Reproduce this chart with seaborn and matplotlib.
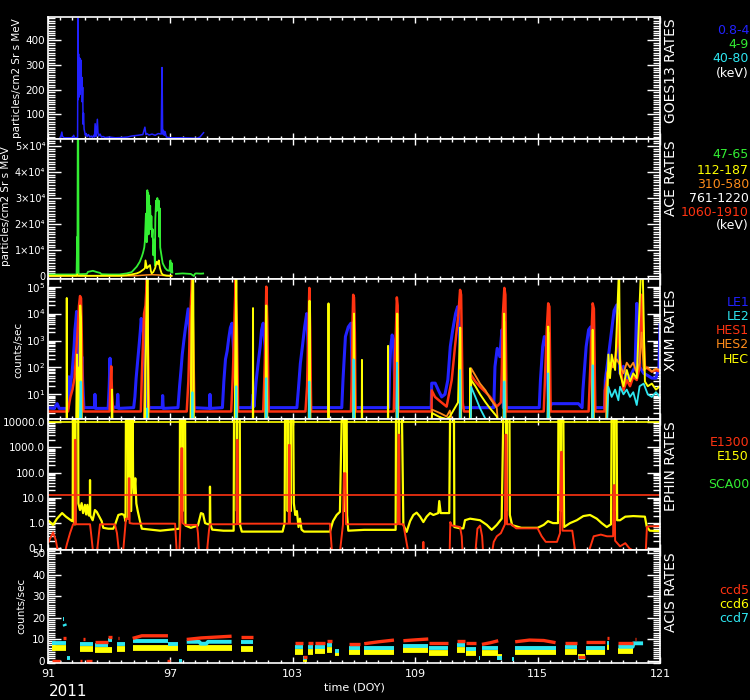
import numpy as np
import pandas as pd
import matplotlib
matplotlib.use("Agg")
import matplotlib.pyplot as plt
import matplotlib.ticker as mticker
import seaborn as sns

nan = np.nan

# ---------------- GOES13 (particles/cm2 Sr s MeV) ----------------
goes_doy = [91.58, 91.62, 91.68, 91.71, 91.80, 92.20, 92.26, 92.30, 92.45, 92.47,
            92.48, 92.50, 92.52, 92.54, 92.56, 92.58, 92.60, 92.62, 92.64, 92.66,
            92.68, 92.70, 92.72, 92.74, 92.77, 92.80, 92.83, 92.87, 92.92, 92.98,
            93.05, 93.12, 93.18, 93.24, 93.28, 93.31, 93.36, 93.42, 93.45, 93.48,
            93.55, 93.62, 93.70, 93.80, 94.00, 94.30, 94.60, 94.90, 95.10, 95.40,
            95.65, 95.75, 95.80, 95.85, 95.95, 96.10, 96.25, 96.40, 96.55, 96.59,
            96.62, 96.66, 96.70, 96.74, 96.80, 97.00, 97.50, 98.00, 98.30, 98.45,
            98.55, 98.65]
goes_08_4 = [3, 8, 28, 10, 5, 5, 15, 5, 6, 490,
             160, 345, 170, 330, 180, 325, 200, 320, 210, 250,
             150, 210, 60, 105, 40, 28, 15, 22, 10, 18,
             8, 12, 6, 15, 8, 62, 10, 80, 25, 12,
             20, 8, 10, 6, 8, 5, 6, 8, 12, 15,
             18, 48, 18, 22, 16, 20, 15, 22, 20, 290,
             20, 35, 15, 30, 8, 5, 5, 4, 3, 8,
             18, 28]

# ---------------- ACE ----------------
ace_doy = [91.00, 92.40, 92.43, 92.44, 92.46, 92.48, 92.50, 92.55, 92.90, 92.96,
           93.20, 93.40, 93.55, 93.62, 94.00, 94.50, 94.86, 95.10, 95.35, 95.50,
           95.60, 95.66, 95.72, 95.75, 95.80, 95.84, 95.87, 95.89, 95.91, 95.93,
           95.95, 95.98, 96.01, 96.04, 96.07, 96.10, 96.13, 96.16, 96.20, 96.24,
           96.26, 96.30, 96.33, 96.36, 96.40, 96.43, 96.46, 96.48, 96.50, 96.54,
           96.58, 96.62, 96.68, 96.75, 96.85, 96.95, 97.00, 97.03, 97.06, 97.10,
           nan, 97.23, 97.60, 98.00, 98.15, 98.20, 98.25, 98.50, 98.65]
ace_47_65 = [600, 600, 15000, 1000, 60000, 60000, 1000, 700, 800, 1600,
             2000, 1500, 1200, 700, 600, 600, 1000, 1500, 3600, 5500,
             7500, 9000, 11000, 13500, 24000, 13000, 33000, 20000, 32000, 16000,
             31000, 22000, 27000, 18000, 23000, 15000, 18000, 8000, 14000, 4000,
             22000, 29000, 25000, 30000, 26000, 29000, 15000, 26000, 11000, 9000,
             7000, 5000, 4000, 3000, 2200, 2000, 6000, 1500, 5000, 1000,
             nan, 800, 1000, 800, 0, 800, 1000, 900, 1000]
ace_y_doy = [91.00, 92.40, 92.44, 92.48, 93.00, 94.50, 94.86, 95.10, 95.35, 95.50,
             95.59, 95.68, 95.75, 95.78, 95.85, 95.92, 96.00, 96.04, 96.08, 96.16,
             96.25, 96.33, 96.40, 96.43, 96.49, 96.57, 96.65, 96.80, 97.00, 97.10]
ace_112_187 = [100, 100, 600, 100, 100, 100, 300, 600, 1000, 1500,
               2000, 2500, 3000, 6000, 3000, 3600, 4200, 2000, 1000, 1500,
               3000, 5500, 4500, 6000, 3000, 1000, 400, 200, 100, 100]
ace_o_doy = [91.00, 95.30, 95.80, 96.10, 96.40, 96.80, 97.10]
ace_310_580 = [0, 100, 400, 500, 400, 100, 0]

# ---------------- XMM (counts/sec) ----------------
le1_doy = [91.00, 91.30, 91.45, 91.55, 91.98, 92.02, 92.06, 92.12, 92.18, 92.22,
           92.28, 92.32, 92.36, 92.40, 92.44, 92.48, 92.54, 92.60, 92.66, 92.70,
           92.76, 93.28, 93.30, 93.33, 93.95, 94.00, 94.04, 94.08, 94.12, 94.38,
           94.42, 94.46, 95.20, 95.26, 95.32, 95.40, 95.46, 95.52, 95.57, 95.62,
           95.66, 95.72, 95.80, 96.60, 96.62, 96.65, 97.37, 97.45, 97.52, 97.58,
           97.66, 97.74, 97.82, 97.87, 97.92, 98.00, 98.10, 98.92, 98.94, 98.97,
           99.55, 99.62, 99.70, 99.78, 99.86, 99.94, 100.02, 100.08, 100.15, 100.25,
           101.00, 101.06, 101.10, 101.20, 101.30, 101.40, 101.47, 101.55, 101.64, 101.72,
           103.20, 103.27, 103.37, 103.47, 103.58, 103.68, 103.76, 103.82, 105.40, 105.46,
           105.58, 105.72, 105.85, 105.95, 107.70, 107.74, 107.80, 107.87, 107.94, 108.02,
           109.78, 109.81, 109.98, 110.14, 110.30, 110.46, 110.60, 110.72, 110.84, 110.98,
           111.08, 111.16, 111.30, 112.85, 112.91, 113.02, 113.15, 113.25, 113.32, 115.08,
           115.14, 115.25, 115.33, 115.42, 115.55, 115.70, 117.00, 117.18, 117.22, 117.38,
           117.50, 117.60, 117.72, 118.28, 118.32, 118.47, 118.63, 118.75, 118.88, 118.96,
           119.04, 119.21, 119.37, 119.53, 119.69, 119.78, 119.86, 119.92, 120.02, 120.20,
           120.40, 120.60, 120.80, 120.95, 121.00]
le1 = [3.2, 3.0, 4.5, 3.0, 3.0, 45, 10, 30, 60, 150,
       600, 2500, 5000, 12000, 2000, 300, 60, 30, 250, 30,
       3.2, 3.2, 10, 3.0, 3.0, 20, 220, 15, 3.5, 3.2,
       10, 3.0, 3.2, 8, 40, 200, 600, 2000, 6600, 2500,
       6000, 300, 3.2, 3.2, 9, 3.0, 3.2, 20, 80, 300,
       1000, 3000, 8000, 15000, 4000, 300, 3.2, 3.0, 10, 3.0,
       3.2, 30, 200, 400, 1200, 3000, 4400, 800, 100, 3.2,
       3.2, 10, 3.5, 30, 140, 600, 2500, 4400, 600, 3.2,
       3.2, 14, 140, 590, 3200, 10000, 500, 3.2, 3.2, 34,
       1400, 3200, 4400, 3.2, 3.2, 60, 590, 1600, 1000, 3.2,
       3.2, 26, 26, 14, 8, 10, 34, 590, 2500, 10000,
       18000, 3000, 3.2, 3.2, 107, 510, 250, 2500, 3.2, 3.2,
       34, 590, 1400, 590, 3.2, 4.5, 4.5, 3.2, 14, 590,
       2500, 3200, 3.2, 3.2, 34, 250, 2500, 13000, 21000, 590,
       60, 110, 34, 45, 80, 100, 24000, 2500, 100, 60,
       50, 40, 40, 100, 4400]

hes1_doy = [91.00, 91.98, 92.05, 92.10, 92.20, 92.30, 92.40, 92.46, 92.52, 92.57,
            92.62, 92.66, 92.70, 92.74, 94.02, 94.06, 94.10, 94.14, 94.20, 95.55,
            95.60, 95.66, 95.71, 95.78, 95.85, 95.90, 95.95, 97.80, 97.88, 97.95,
            98.01, 98.06, 98.12, 98.18, 99.98, 100.06, 100.14, 100.20, 100.26, 100.32,
            101.55, 101.60, 101.64, 101.67, 101.70, 101.75, 101.82, 103.62, 103.70, 103.76,
            103.81, 103.85, 103.90, 105.85, 105.90, 105.93, 105.96, 106.00, 106.04, 106.08,
            107.95, 108.00, 108.06, 108.10, 108.14, 108.18, 109.80, 109.81, 109.97, 110.22,
            110.54, 110.79, 110.95, 111.12, 111.20, 111.25, 111.33, 111.39, 111.72, 111.74,
            111.95, 112.18, 112.45, 112.67, 113.00, 113.20, 113.24, 113.30, 113.37, 113.42,
            113.48, 115.30, 115.36, 115.45, 115.52, 115.58, 115.64, 117.50, 117.54, 117.62,
            117.70, 117.76, 117.83, 118.28, 118.30, 118.47, 118.63, 118.80, 118.88, 118.96,
            119.04, 119.21, 119.37, 119.53, 119.69, 119.86, 120.00, 120.10, 120.18, 120.26,
            120.40, 120.60, 120.80, 121.00]
hes1 = [2.3, 2.3, 5, 8, 15, 40, 600, 3000, 20000, 45000,
        37000, 1000, 10, 2.3, 2.3, 20, 110, 10, 2.3, 2.3,
        50, 1000, 10000, 20000, 200000, 500, 2.3, 2.3, 30, 2000,
        30000, 200000, 1000, 2.3, 2.3, 50, 5000, 200000, 3000, 2.3,
        2.3, 30, 300, 3000, 100000, 5000, 2.3, 2.3, 20, 2000,
        90000, 3000, 2.3, 2.3, 100, 5000, 50000, 40000, 2000, 2.3,
        2.3, 150, 3000, 40000, 20000, 2.3, 2.3, 14, 8, 5.5,
        3.5, 34, 590, 10000, 76000, 50000, 5, 2.3, 2.3, 52,
        30, 19, 12, 8, 3.5, 5, 60, 10000, 90000, 50000,
        2.3, 2.3, 34, 2500, 24000, 18000, 2.3, 2.3, 14, 590,
        24000, 15000, 2.3, 2.3, 14, 60, 110, 200, 590, 10000,
        200, 14, 34, 20, 45, 34, 100, 50000, 2000, 110,
        90, 70, 80, 70]

hes2_doy = [91.00, 92.50, 92.56, 92.60, 92.66, 95.70, 95.80, 95.86, 95.92, 97.98,
            98.04, 98.10, 100.16, 100.22, 100.28, 101.65, 101.70, 101.76, 103.78, 103.82,
            103.86, 105.95, 105.98, 106.02, 108.08, 108.12, 108.16, 109.80, 109.83, 110.22,
            110.54, 110.70, 110.80, 111.18, 111.22, 111.26, 111.72, 111.74, 111.95, 112.18,
            112.45, 112.67, 112.90, 113.00, 113.05, 113.34, 113.38, 113.44, 115.50, 115.54,
            115.58, 117.68, 117.72, 117.76, 118.35, 118.40, 118.55, 118.70, 118.88, 119.04,
            119.21, 119.37, 119.53, 119.69, 119.86, 120.00, 120.10, 120.20, 120.40, 120.60,
            120.80, 121.00]
hes2 = [1.0, 1.0, 3000, 8000, 1.0, 1.0, 5000, 100000, 1.0, 1.0,
        20000, 1.0, 1.0, 20000, 1.0, 1.0, 3000, 1.0, 1.0, 2000,
        1.0, 1.0, 5000, 1.0, 1.0, 3000, 1.0, 1.0, 2.7, 2.0,
        1.5, 2.5, 1.0, 1.0, 3000, 1.0, 1.0, 93, 50, 25,
        14, 7, 4, 3, 1.0, 1.0, 5000, 1.0, 1.0, 2000,
        1.0, 1.0, 2000, 1.0, 1.0, 60, 150, 100, 200, 120,
        60, 150, 100, 150, 60, 150, 2000, 80, 100, 70,
        90, 80]

hec_doy = [91.00, 91.91, 91.92, 91.93, 92.38, 92.42, 92.46, 92.52, 92.56, 92.58,
           92.62, 92.64, 94.12, 94.14, 94.16, 95.75, 95.78, 95.82, 95.86, 95.89,
           95.92, 98.00, 98.04, 98.08, 98.12, 98.15, 100.15, 100.19, 100.23, 100.27,
           101.04, 101.05, 101.06, 101.66, 101.70, 101.74, 103.78, 103.82, 103.86, 104.74,
           104.75, 104.76, 105.97, 106.00, 106.04, 106.38, 106.39, 106.40, 107.66, 107.67,
           107.68, 108.09, 108.12, 108.16, 109.80, 109.83, 110.22, 110.54, 110.70, 111.10,
           111.16, 111.20, 111.24, 111.68, 111.69, 111.70, 111.74, 111.95, 112.18, 112.45,
           112.67, 113.00, 113.10, 113.33, 113.36, 113.40, 115.49, 115.52, 115.56, 117.66,
           117.70, 117.74, 118.40, 118.47, 118.55, 118.63, 118.80, 118.97, 119.00, 119.04,
           119.21, 119.37, 119.53, 119.69, 119.86, 120.05, 120.16, 120.26, 120.40, 120.60,
           120.80, 121.00]
hec = [0.8, 0.8, 38000, 0.8, 0.8, 300, 0.8, 100, 0.8, 20000,
       5000, 0.8, 0.8, 15, 0.8, 0.8, 50, 3000, 200000, 200000,
       0.8, 0.8, 5000, 200000, 200000, 0.8, 0.8, 1000, 200000, 0.8,
       0.8, 16000, 0.8, 0.8, 20000, 0.8, 0.8, 30000, 0.8, 0.8,
       24000, 0.8, 0.8, 10000, 0.8, 0.8, 190, 0.8, 0.8, 630,
       0.8, 0.8, 10000, 0.8, 0.8, 2.0, 1.4, 1.2, 1.5, 5,
       300, 3000, 0.8, 0.8, 93, 0.8, 34, 20, 10, 5,
       3, 1.5, 0.8, 0.8, 10000, 0.8, 0.8, 3300, 0.8, 0.8,
       2500, 0.8, 0.8, 300, 40, 300, 80, 200000, 200000, 60,
       20, 80, 30, 60, 40, 200000, 200000, 30, 20, 25,
       15, 20]

le2_doy = [91.00, 92.56, 92.60, 92.64, 95.84, 95.86, 95.88, 98.05, 98.08, 98.11,
           100.20, 100.23, 100.26, 101.67, 101.70, 101.73, 103.79, 103.81, 103.84, 105.96,
           105.98, 106.01, 108.09, 108.11, 108.14, 111.18, 111.20, 111.23, 111.72, 111.74,
           111.95, 112.18, 112.45, 112.67, 113.34, 113.37, 113.40, 115.49, 115.52, 115.55,
           117.67, 117.70, 117.73, 118.40, 118.47, 118.63, 118.80, 118.96, 119.04, 119.21,
           119.37, 119.53, 119.69, 119.86, 120.00, 120.20, 120.40, 120.60, 120.80, 121.00]
le2 = [0.6, 0.6, 30, 0.6, 0.6, 3, 0.6, 0.6, 12, 0.6,
       0.6, 20, 0.6, 0.6, 40, 0.6, 0.6, 30, 0.6, 0.6,
       200, 0.6, 0.6, 150, 0.6, 0.6, 80, 0.6, 0.6, 19,
       8, 3, 1.2, 0.6, 0.6, 30, 0.6, 0.6, 60, 0.6,
       0.6, 120, 0.6, 0.6, 19, 8, 15, 6, 19, 10,
       15, 8, 12, 4, 20, 25, 10, 8, 12, 8]

# ---------------- EPHIN ----------------
e150_doy = [91.00, 91.25, 91.44, 91.69, 91.88, 92.18, 92.21, 92.22, 92.28, 92.29,
            92.34, 92.35, 92.48, 92.49, 92.57, 92.65, 92.72, 92.81, 92.87, 92.93,
            93.00, 93.05, 93.06, 93.07, 93.19, 93.30, 93.39, 93.47, 93.63, 93.71,
            93.96, 94.20, 94.28, 94.45, 94.61, 94.73, 94.80, 94.82, 94.92, 94.93,
            94.97, 94.98, 95.06, 95.07, 95.15, 95.17, 95.22, 95.28, 95.33, 95.40,
            95.50, 95.60, 96.50, 97.00, 97.45, 97.47, 97.59, 97.60, 97.61, 97.72,
            97.74, 98.00, 98.35, 98.50, 98.60, 98.70, 98.85, 98.93, 98.94, 98.96,
            99.05, 99.60, 100.10, 100.12, 100.25, 100.26, 100.27, 100.40, 100.42, 100.50,
            101.50, 102.50, 102.60, 102.62, 102.74, 102.75, 102.76, 102.89, 102.90, 102.91,
            103.02, 103.05, 103.12, 103.20, 103.28, 103.35, 103.43, 103.55, 104.00, 104.82,
            104.97, 105.15, 105.31, 105.40, 105.51, 105.52, 105.53, 105.64, 105.66, 105.72,
            106.50, 107.50, 108.04, 108.06, 108.19, 108.20, 108.21, 108.35, 108.42, 108.58,
            108.75, 108.91, 109.07, 109.24, 109.40, 109.56, 109.73, 109.89, 110.13, 110.18,
            110.25, 110.46, 110.67, 110.71, 110.90, 110.92, 111.20, 111.36, 111.44, 111.69,
            112.18, 112.51, 112.75, 113.00, 113.24, 113.32, 113.46, 113.47, 113.48, 113.62,
            113.64, 113.75, 114.20, 115.00, 115.30, 115.51, 115.75, 116.00, 116.02, 116.13,
            116.14, 116.15, 116.26, 116.30, 116.59, 116.92, 117.24, 117.57, 117.90, 118.14,
            118.39, 118.60, 118.63, 118.74, 118.75, 118.76, 118.87, 118.90, 119.04, 119.30,
            119.69, 120.26, 120.35, 120.50, 121.00]
e150 = [1.3, 0.85, 1.5, 2.5, 1.8, 1.2, 1.2, 20000, 20000, 0.9,
        0.9, 20000, 20000, 6, 3.3, 6.2, 2.5, 5.3, 2.2, 5.3,
        2.0, 2.5, 51, 2.0, 1.3, 3.3, 2.8, 2.1, 1.2, 0.65,
        0.6, 0.6, 0.83, 2.1, 2.3, 2.1, 1.2, 20000, 20000, 1.5,
        1.5, 20000, 20000, 3, 20000, 80, 15, 60, 6, 3,
        1.3, 0.6, 0.5, 0.55, 0.6, 20000, 20000, 3, 20000, 20000,
        0.8, 0.65, 0.8, 2.5, 2.3, 1.0, 0.9, 0.9, 28, 0.9,
        0.55, 0.5, 0.5, 20000, 20000, 3, 20000, 20000, 0.8, 0.46,
        0.46, 0.46, 1.0, 20000, 20000, 3, 20000, 20000, 3, 20000,
        20000, 6.2, 2.1, 3.0, 0.7, 1.5, 0.55, 0.46, 0.46, 0.46,
        1.2, 2.1, 2.8, 20000, 20000, 3, 20000, 20000, 2.1, 0.5,
        0.54, 0.54, 0.54, 20000, 20000, 3, 20000, 20000, 0.85, 0.45,
        1.2, 2.1, 2.6, 1.8, 1.1, 1.8, 2.5, 2.1, 2.5, 7.5,
        2.5, 2.5, 2.5, 20000, 20000, 0.7, 0.62, 0.62, 1.3, 1.5,
        1.3, 0.85, 0.54, 0.85, 1.5, 20000, 20000, 3, 20000, 20000,
        2.1, 0.83, 0.65, 0.65, 0.85, 1.2, 1.0, 1.0, 20000, 20000,
        3, 20000, 20000, 0.7, 1.0, 1.3, 1.9, 2.1, 1.5, 1.0,
        0.7, 0.9, 20000, 20000, 3, 20000, 20000, 1.3, 1.3, 1.8,
        1.9, 1.8, 0.72, 0.5, 0.48]

e1300_doy = [91.00, 91.25, 91.39, 91.49, 91.83, 91.93, 92.08, 92.23, 92.31, 92.32,
             92.35, 92.36, 93.06, 93.11, 93.21, 93.40, 93.50, 93.55, 94.28, 94.38,
             94.48, 94.68, 94.77, 94.82, 94.95, 94.96, 94.99, 95.00, 95.17, 96.50,
             97.23, 97.31, 97.44, 97.50, 97.53, 97.58, 97.60, 97.72, 98.30, 98.35,
             98.40, 98.79, 98.89, 98.94, 100.07, 100.25, 100.26, 100.30, 100.31, 100.45,
             102.80, 102.81, 102.85, 102.86, 103.02, 104.82, 104.92, 105.31, 105.46, 105.50,
             105.58, 105.61, 105.66, 108.15, 108.18, 108.22, 108.24, 108.42, 108.66, 109.38,
             109.40, 109.42, 110.69, 110.72, 110.80, 111.20, 111.28, 111.32, 111.95, 112.05,
             112.18, 112.28, 112.33, 112.77, 112.85, 113.00, 113.20, 113.30, 113.40, 113.42,
             113.47, 113.50, 113.70, 113.95, 115.00, 115.20, 115.40, 115.95, 116.10, 116.15,
             116.19, 116.22, 116.34, 116.70, 116.85, 117.50, 117.75, 118.10, 118.40, 118.70,
             118.73, 118.78, 118.80, 119.04, 119.30, 119.50, 119.70, 120.00, 120.30, 120.36,
             120.50, 121.00]
e1300 = [0.16, 0.43, 0.2, 0.07, 0.07, 0.15, 0.4, 0.9, 0.9, 2000,
         2000, 0.9, 0.9, 0.4, 0.07, 0.07, 0.4, 0.9, 0.9, 0.4,
         0.07, 0.07, 0.5, 1.5, 1.5, 60, 60, 1.0, 0.95, 0.95,
         0.95, 0.07, 0.07, 1.5, 930, 930, 1.0, 0.85, 0.85, 0.4,
         0.07, 0.07, 0.5, 0.9, 0.9, 0.9, 2000, 2000, 0.9, 0.95,
         0.95, 1260, 1260, 0.95, 0.95, 0.95, 0.07, 0.07, 0.9, 95,
         95, 0.9, 0.9, 0.9, 3200, 3200, 0.9, 0.9, 0.07, 0.07,
         0.18, 0.07, 0.07, 1.1, 0.8, 0.7, 0.3, 0.07, 0.07, 0.6,
         0.8, 0.3, 0.07, 0.07, 0.18, 0.3, 0.4, 0.6, 0.9, 3200,
         3200, 0.9, 0.9, 0.62, 0.62, 0.3, 0.18, 0.18, 0.4, 670,
         670, 0.5, 0.5, 0.5, 0.07, 0.07, 0.3, 0.35, 0.3, 0.3,
         32, 32, 0.2, 0.12, 0.16, 0.1, 0.08, 0.07, 0.07, 0.72,
         0.75, 0.75]

e150_limit = 10500
e1300_limit = 13.5

# ---------------- ACIS (counts/sec) ----------------
ccd5_doy = [91.74, 91.88, nan, 92.72, 92.80, nan, 93.30, 93.92, nan, 93.93, 94.12, nan,
            94.42, 94.47, nan, 95.15, 95.60, 96.88, nan, 97.80, 98.50, 100.00, nan,
            100.45, 101.07, nan, 103.11, 103.52, nan, 103.50, 103.70, nan, 103.76, 104.00, nan,
            104.09, 104.58, nan, 104.66, 104.91, nan, 104.85, 104.87, nan, 105.77, 106.29, nan,
            106.50, 107.20, 107.96, nan, 108.42, 109.00, 109.64, nan, 109.69, 110.60, nan,
            111.04, 111.44, nan, 111.49, 111.98, nan, 112.27, 112.70, 113.07, nan,
            113.90, 114.60, 115.30, 115.88, nan, 116.34, 116.92, nan, 116.98, 117.32, nan,
            117.37, 118.30, nan, 118.39, 118.52, nan, 118.96, 119.69, nan, 119.78, 119.80, nan,
            91.20, 91.60, nan, 92.55, 92.65, nan, 92.85, 93.18, nan, 96.85, 97.00]
ccd5 = [10.5, 10.5, nan, 10.0, 10.0, nan, 8.5, 8.5, nan, 11.0, 11.0, nan,
        10.3, 10.3, nan, 10.3, 11.5, 11.5, nan, 9.8, 10.5, 11.3, nan,
        10.8, 10.8, nan, 8.3, 8.3, nan, 1.5, 1.5, nan, 8.0, 8.0, nan,
        8.3, 8.3, nan, 9.2, 9.2, nan, 14.6, 14.6, nan, 7.5, 7.5, nan,
        7.8, 8.7, 9.5, nan, 9.2, 9.6, 10.0, nan, 8.3, 8.3, nan,
        9.2, 9.2, nan, 8.3, 8.3, nan, 7.5, 8.3, 9.2, nan,
        8.7, 9.5, 9.3, 8.3, nan, 8.3, 8.3, nan, 1.5, 1.5, nan,
        8.5, 8.5, nan, 10.3, 10.3, nan, 8.3, 8.3, nan, 9.9, 9.9, nan,
        0.0, 0.0, nan, 0.0, 0.0, nan, 0.0, 0.0, nan, 0.0, 0.0]

ccd6_doy = [91.20, 91.88, nan, 92.57, 93.19, nan, 93.30, 94.12, nan, 94.37, 94.78, nan,
            95.15, 96.88, nan, 96.90, 97.39, nan, 97.80, 100.00, nan, 100.45, 101.07, nan,
            103.11, 103.52, nan, 103.50, 103.70, nan, 103.76, 104.00, nan, 104.09, 104.58, nan,
            104.66, 104.91, nan, 105.07, 105.28, nan, 105.77, 106.29, nan, 106.50, 107.96, nan,
            108.42, 109.64, nan, 109.69, 110.60, nan, 111.04, 111.44, nan, 111.49, 111.98, nan,
            112.27, 113.07, nan, 113.00, 113.24, nan, 113.89, 115.88, nan, 116.34, 116.92, nan,
            116.98, 117.32, nan, 117.37, 118.30, nan, 118.39, 118.52, nan, 118.96, 119.69]
ccd6 = [5.8, 5.8, nan, 5.5, 5.5, nan, 5.0, 5.0, nan, 5.5, 5.5, nan,
        5.7, 5.7, nan, 5.7, 5.7, nan, 5.7, 5.7, nan, 5.3, 5.3, nan,
        4.1, 4.1, nan, 0.5, 0.5, nan, 4.1, 4.1, nan, 4.5, 4.5, nan,
        4.9, 4.9, nan, 3.5, 3.5, nan, 4.1, 4.1, nan, 4.1, 4.1, nan,
        4.9, 4.9, nan, 3.6, 3.6, nan, 4.9, 4.9, nan, 3.6, 3.6, nan,
        3.6, 3.6, nan, 1.5, 1.5, nan, 3.9, 3.9, nan, 4.1, 4.1, nan,
        1.8, 1.8, nan, 4.1, 4.1, nan, 6.4, 6.4, nan, 4.5, 4.5]

ccd7_doy = [91.20, 91.88, nan, 91.72, 91.76, nan, 91.80, 91.84, nan, 91.93, 92.08, nan,
            92.57, 93.19, nan, 93.30, 93.92, nan, 93.93, 94.12, nan, 94.37, 94.78, nan,
            95.15, 96.88, nan, 96.90, 97.39, nan, 96.91, 96.93, nan,
            97.80, 98.40, 98.50, 98.75, 98.85, 100.00, nan, 100.45, 101.07, nan,
            103.11, 103.52, nan, 103.50, 103.70, nan, 103.76, 104.00, nan, 104.09, 104.58, nan,
            104.66, 104.91, nan, 105.07, 105.28, nan, 105.77, 106.29, nan, 106.50, 107.96, nan,
            108.42, 109.64, nan, 109.69, 110.60, nan, 111.04, 111.44, nan, 111.49, 111.98, nan,
            112.12, 112.16, nan, 112.27, 113.07, nan, 113.00, 113.24, nan, 113.73, 113.84, nan,
            113.89, 115.88, nan, 116.34, 116.92, nan, 116.98, 117.32, nan, 117.37, 118.30, nan,
            118.39, 118.52, nan, 118.96, 119.66, 119.70, 120.17, nan, 97.40, 97.55]
ccd7 = [8.0, 8.0, nan, 19.5, 19.5, nan, 17.0, 16.0, nan, 1.0, 1.0, nan,
        7.5, 7.5, nan, 7.0, 7.0, nan, 9.5, 9.5, nan, 7.6, 7.6, nan,
        9.0, 9.0, nan, 7.5, 7.5, nan, 4.0, 4.0, nan,
        8.7, 8.7, 7.8, 7.8, 8.7, 8.7, nan, 8.5, 8.5, nan,
        6.4, 6.4, nan, 1.0, 1.0, nan, 6.4, 6.4, nan, 6.4, 6.4, nan,
        7.2, 7.2, nan, 4.5, 4.5, nan, 6.0, 6.0, nan, 5.7, 5.7, nan,
        6.8, 6.8, nan, 5.7, 5.7, nan, 7.0, 7.0, nan, 5.5, 5.5, nan,
        1.0, 1.0, nan, 5.7, 5.7, nan, 1.0, 1.0, nan, 0.5, 0.5, nan,
        5.9, 5.9, nan, 6.4, 6.4, nan, 1.0, 1.0, nan, 6.0, 6.0, nan,
        8.3, 8.3, nan, 6.4, 6.4, 8.0, 8.0, nan, 0.0, 0.0]

# ---------------- colours / layout ----------------
BLUE = "#2222ff"
GREEN = "#33ee33"
CYAN = "#2ee6f0"
YELLOW = "#ffff00"
ORANGE = "#ff8c1a"
RED = "#ff3311"
WHITE = "#ffffff"

W, H = 750, 700
LEFT, RIGHT = 48, 660
panels = [(17, 139), (139, 279), (279, 419), (419, 550), (550, 663)]

sns.set_theme(style="ticks", rc={
    "axes.facecolor": "black", "figure.facecolor": "black",
    "axes.edgecolor": "white", "text.color": "white",
    "xtick.color": "white", "ytick.color": "white", "axes.grid": False,
})
plt.rcParams["font.family"] = ["DejaVu Sans"]


def draw(ax, t, v, color, lw=1.0):
    t = np.asarray(t, dtype=float)
    v = np.asarray(v, dtype=float)
    assert len(t) == len(v), (color, len(t), len(v))
    df = pd.DataFrame({"doy": t, "rate": v})
    df["seg"] = df["rate"].isna().cumsum()
    df = df.dropna()
    sns.lineplot(data=df, x="doy", y="rate", units="seg", estimator=None, sort=False,
                 color=color, linewidth=lw, ax=ax, legend=False, solid_capstyle="butt")


def ftext(x, y, s, **kw):
    fig.text(x / W, 1 - y / H, s, **kw)


fig = plt.figure(figsize=(7.5, 7), dpi=100)
axes = []
for top, bot in panels:
    ax = fig.add_axes([LEFT / W, 1 - bot / H, (RIGHT - LEFT) / W, (bot - top) / H])
    axes.append(ax)
ax_goes, ax_ace, ax_xmm, ax_eph, ax_acis = axes

ax_xmm.set_yscale("log")
ax_eph.set_yscale("log")

draw(ax_goes, goes_doy, goes_08_4, BLUE, 1.1)

draw(ax_ace, ace_o_doy, ace_310_580, ORANGE, 1.1)
draw(ax_ace, ace_doy, ace_47_65, GREEN, 1.3)
draw(ax_ace, ace_y_doy, ace_112_187, YELLOW, 1.3)

draw(ax_xmm, le1_doy, le1, BLUE, 2.2)
draw(ax_xmm, hes1_doy, hes1, RED, 1.8)
draw(ax_xmm, hes2_doy, hes2, ORANGE, 1.3)
draw(ax_xmm, hec_doy, hec, YELLOW, 1.4)
draw(ax_xmm, le2_doy, le2, CYAN, 1.3)

draw(ax_eph, e150_doy, e150, YELLOW, 1.6)
draw(ax_eph, e1300_doy, e1300, RED, 1.4)
ax_eph.axhline(e150_limit, color=YELLOW, lw=1.2)
ax_eph.axhline(e1300_limit, color=RED, lw=1.2)

draw(ax_acis, ccd6_doy, ccd6, YELLOW, 4.2)
draw(ax_acis, ccd7_doy, ccd7, CYAN, 2.8)
draw(ax_acis, ccd5_doy, ccd5, RED, 2.4)

xmajor = [91, 97, 103, 109, 115, 121]
for i, ax in enumerate(axes):
    ax.set_facecolor("black")
    for s in ax.spines.values():
        s.set_visible(True)
        s.set_color("white")
        s.set_linewidth(1.2)
    ax.set_xlim(91, 121)
    ax.set_xticks(xmajor)
    ax.xaxis.set_minor_locator(mticker.FixedLocator(np.arange(91, 121.01, 0.6)))
    ax.tick_params(axis="both", which="both", direction="in", colors="white",
                   top=True, bottom=True, left=True, right=True, labelsize=7.5, width=1)
    ax.tick_params(axis="x", which="major", length=4.5, pad=4)
    ax.tick_params(axis="x", which="minor", length=2.3)
    ax.tick_params(axis="y", which="major", length=9.5, pad=2)
    ax.tick_params(axis="y", which="minor", length=5)
    ax.set_xlabel("")
    ax.set_ylabel("")
    if i < 4:
        ax.tick_params(axis="x", labelbottom=False)
    else:
        ax.set_xticklabels([str(x) for x in xmajor], fontsize=8)

ax_goes.set_ylim(0, 495)
ax_goes.set_yticks([0, 100, 200, 300, 400], ["", "100", "200", "300", "400"])
ax_goes.yaxis.set_minor_locator(mticker.MultipleLocator(10))

ax_ace.set_ylim(-1150, 52700)
ax_ace.set_yticks([0, 10000, 20000, 30000, 40000, 50000],
                  ["0"] + ["%d×10⁴" % k for k in range(1, 6)])
ax_ace.yaxis.set_minor_locator(mticker.MultipleLocator(1000))
ax_ace.tick_params(axis="y", labelsize=7)

ax_xmm.set_ylim(1.21, 1.93e5)
ax_xmm.set_yticks([1e1, 1e2, 1e3, 1e4, 1e5],
                  [r"$10^{%d}$" % k for k in range(1, 6)])
ax_xmm.yaxis.set_minor_locator(mticker.LogLocator(base=10, subs=np.arange(2, 10), numticks=20))
ax_xmm.yaxis.set_minor_formatter(mticker.NullFormatter())

ax_eph.set_ylim(0.0857, 13500)
ax_eph.set_yticks([0.1, 1, 10, 100, 1000, 10000],
                  ["0.1", "1.0", "10.0", "100.0", "1000.0", "10000.0"])
ax_eph.yaxis.set_minor_locator(mticker.LogLocator(base=10, subs=np.arange(2, 10), numticks=20))
ax_eph.yaxis.set_minor_formatter(mticker.NullFormatter())

ax_acis.set_ylim(-1.16, 51.4)
ax_acis.set_yticks([0, 10, 20, 30, 40, 50])
ax_acis.yaxis.set_minor_locator(mticker.MultipleLocator(1))

# y labels
ftext(17, 78, "particles/cm2 Sr s MeV", rotation=90, ha="center", va="center", fontsize=7.5)
ftext(6, 206, "particles/cm2 Sr s MeV", rotation=90, ha="center", va="center", fontsize=7.5)
ftext(18, 350, "counts/sec", rotation=90, ha="center", va="center", fontsize=7.5)
ftext(21, 606, "counts/sec", rotation=90, ha="center", va="center", fontsize=7.5)

# panel titles on the right
for label, top in [("GOES13 RATES", 18), ("ACE RATES", 140), ("XMM RATES", 290),
                   ("EPHIN RATES", 421), ("ACIS RATES", 552)]:
    ftext(671, top, label, rotation=90, ha="center", va="top", fontsize=10)

# colour keys
keys = [
    ("0.8-4", BLUE, 31), ("4-9", GREEN, 45), ("40-80", CYAN, 58), ("(keV)", WHITE, 73),
    ("47-65", GREEN, 155), ("112-187", YELLOW, 170), ("310-580", ORANGE, 184),
    ("761-1220", WHITE, 198), ("1060-1910", RED, 212), ("(keV)", WHITE, 226),
    ("LE1", BLUE, 303), ("LE2", CYAN, 317), ("HES1", RED, 331), ("HES2", ORANGE, 345),
    ("HEC", YELLOW, 359),
    ("E1300", RED, 443), ("E150", YELLOW, 457), ("SCA00", GREEN, 485),
    ("ccd5", RED, 590), ("ccd6", YELLOW, 605), ("ccd7", CYAN, 618),
]
for s, c, y in keys:
    ftext(749, y, s, color=c, ha="right", va="center", fontsize=9)

ftext(354, 687, "time (DOY)", ha="center", va="center", fontsize=8)
ftext(49, 691, "2011", ha="left", va="center", fontsize=11)

fig.savefig("out.png", dpi=100, facecolor="black")
